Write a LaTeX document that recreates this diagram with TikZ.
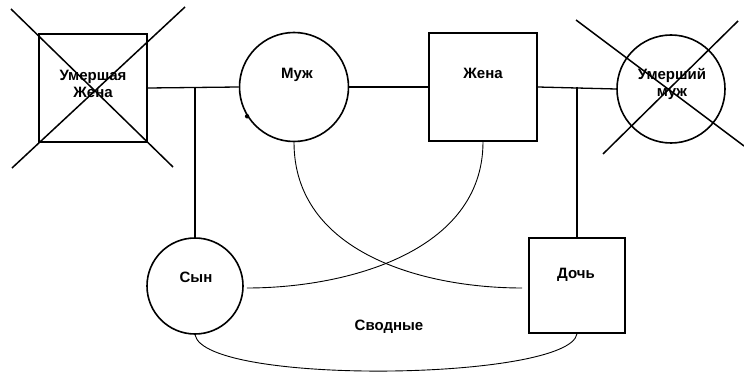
\documentclass[tikz,border=0pt]{standalone}
\usepackage{fontspec}
\setmainfont{Liberation Sans}
\usetikzlibrary{calc}
\begin{document}
\begin{tikzpicture}[x=1pt,y=-1pt,
  person/.style={draw=black,line width=1.6pt,inner sep=0pt},
  sq/.style={person,rectangle},
  rnd/.style={person,circle},
  lbl/.style={font=\fontsize{15}{18}\selectfont\bfseries,align=center,inner sep=0pt},
  tie/.style={line width=1.3pt},
  arc/.style={line width=0.9pt},
  xout/.style={line width=1.5pt}]
\useasboundingbox (0,0) rectangle (744,385);
% persons
\node[sq,minimum width=108pt,minimum height=108pt] (dw) at (93,88) {};
\node[rnd,minimum size=109pt] (muzh) at (294,87) {};
\node[sq,minimum width=108pt,minimum height=108pt] (zhena) at (483,87) {};
\node[rnd,minimum size=108pt] (dh) at (671,89) {};
\node[rnd,minimum size=96pt] (syn) at (195,286) {};
\node[sq,minimum width=96pt,minimum height=95pt] (doch) at (577,285.5) {};
% labels
\node[lbl] (tdw) at (93,84) {Умершая\\[-1pt]Жена};
\node[lbl] (tmuzh) at (297,75) {Муж};
\node[lbl] (tzhena) at (483,73) {Жена};
\node[lbl] (tdh) at (672,84) {Умерший\\[-1pt]муж};
\node[lbl] (tsyn) at (196,277) {Сын};
\node[lbl] (tdoch) at (576,275) {Дочь};
\node[lbl] (tsv) at (389,327) {Сводные};
% crosses
\draw[xout] ($(dw.center)+(-82,-79)$) -- ($(dw.center)+(80,79)$);
\draw[xout] ($(dw.center)+(92,-81)$) -- ($(dw.center)+(-81,80)$);
\draw[xout] ($(dh.center)+(-95,-69)$) -- ($(dh.center)+(73,57)$);
\draw[xout] ($(dh.center)+(67,-68)$) -- ($(dh.center)+(-68,65)$);
% marriage ties
\coordinate (j1) at (dw.east -| syn.north);
\coordinate (j2) at (zhena.east -| doch.north);
\draw[tie] (dw.east) -- (muzh.west);
\draw[tie] (j1) -- (syn.north);
\draw[tie] (muzh.east) -- (zhena.west);
\draw[tie] (zhena.east) -- (dh.west);
\draw[tie] (j2) -- (doch.north);
% curves
\coordinate (dend) at ($(doch.west)+(-6,2.5)$);
\coordinate (send) at ($(syn.east)+(3,2)$);
\draw[arc] (muzh.south) .. controls +(0,110) and +(-100,0) .. (dend);
\draw[arc] (zhena.south) .. controls +(0,110) and +(100,0) .. (send);
\draw[arc] (syn.south) .. controls +(10,51) and +(-8,47) .. (doch.south);
% dot
\fill (muzh.212) circle (2.2pt);
\end{tikzpicture}
\end{document}
